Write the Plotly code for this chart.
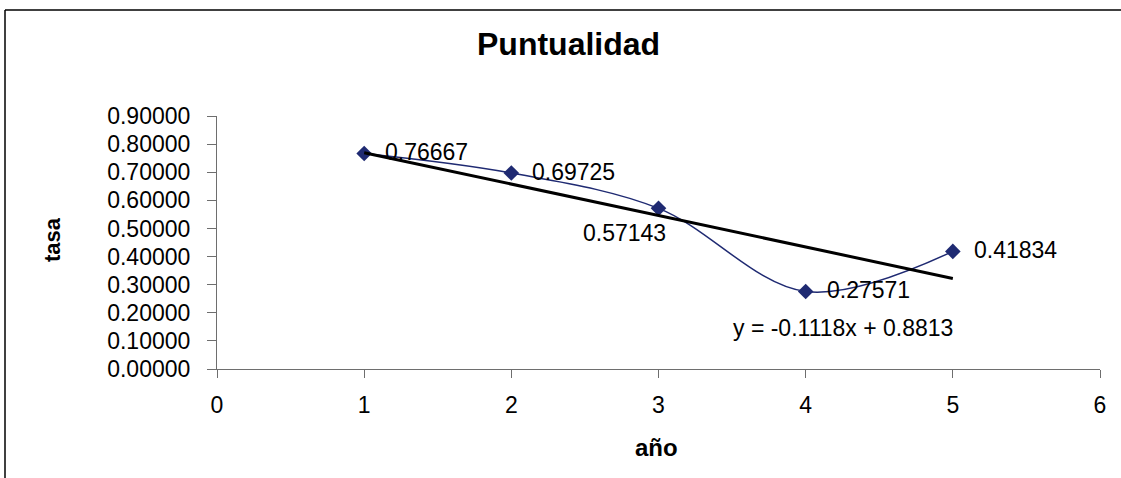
import numpy as np
import plotly.graph_objects as go

# Punctuality rate per year
anios = [1, 2, 3, 4, 5]
tasa = [0.76667, 0.69725, 0.57143, 0.27571, 0.41834]
etiquetas = ["0.76667", "0.69725", "0.57143", "0.27571", "0.41834"]

x_ticks = [0, 1, 2, 3, 4, 5, 6]
y_ticks = [0.0, 0.1, 0.2, 0.3, 0.4, 0.5, 0.6, 0.7, 0.8, 0.9]

# Linear trend fitted to the series
pendiente, intercepto = np.polyfit(anios, tasa, 1)
tendencia_x = [anios[0], anios[-1]]
tendencia_y = [pendiente * v + intercepto for v in tendencia_x]
ecuacion = f"y = {pendiente:.4f}x + {intercepto:.4f}"

W, H = 1121, 478
L, R, T, B = 217, 21, 116, 109
PW, PH = W - L - R, H - T - B


def px(x):
    return (x - L) / PW


def py(y):
    return (H - B - y) / PH


FONT = "Liberation Sans, Arial, sans-serif"
NAVY = "#1f2a72"
AXIS = "#6e6e6e"
TXT = 23

fig = go.Figure()

fig.add_trace(go.Scatter(
    x=anios, y=tasa, mode="lines+markers",
    line=dict(color=NAVY, width=1.5, shape="spline", smoothing=1.0),
    marker=dict(symbol="diamond", size=12, color=NAVY),
    showlegend=False, hoverinfo="skip",
))

fig.add_trace(go.Scatter(
    x=tendencia_x, y=tendencia_y, mode="lines",
    line=dict(color="black", width=3),
    showlegend=False, hoverinfo="skip",
))

# Value labels beside each point
for i, (xv, yv, t) in enumerate(zip(anios, tasa, etiquetas)):
    if i == 2:
        fig.add_annotation(x=xv, y=yv, text=t, showarrow=False,
                           xanchor="right", yanchor="middle",
                           xshift=9, yshift=-25,
                           font=dict(family=FONT, size=TXT, color="black"))
    else:
        fig.add_annotation(x=xv, y=yv, text=t, showarrow=False,
                           xanchor="left", yanchor="middle",
                           xshift=19, yshift=1,
                           font=dict(family=FONT, size=TXT, color="black"))

# Trend line equation
fig.add_annotation(xref="paper", yref="paper", x=px(731), y=py(328),
                   text=ecuacion, showarrow=False,
                   xanchor="left", yanchor="middle",
                   font=dict(family=FONT, size=TXT, color="black"))

# Chart title and axis titles
fig.add_annotation(xref="paper", yref="paper", x=px(568), y=py(44),
                   text="<b>Puntualidad</b>", showarrow=False,
                   xanchor="center", yanchor="middle",
                   font=dict(family=FONT, size=32, color="black"))
fig.add_annotation(xref="paper", yref="paper", x=px(656), y=py(447),
                   text="<b>año</b>", showarrow=False,
                   xanchor="center", yanchor="middle",
                   font=dict(family=FONT, size=24, color="black"))
fig.add_annotation(xref="paper", yref="paper", x=px(52), y=py(240),
                   text="<b>tasa</b>", showarrow=False, textangle=-90,
                   xanchor="center", yanchor="middle",
                   font=dict(family=FONT, size=22, color="black"))

# Chart frame (top and left edges)
frame = dict(color="black", width=1.5)
fig.add_shape(type="line", xref="paper", yref="paper",
              x0=px(5), y0=py(10), x1=px(1121), y1=py(10),
              line=frame, layer="below")
fig.add_shape(type="line", xref="paper", yref="paper",
              x0=px(5), y0=py(10), x1=px(5), y1=py(478),
              line=frame, layer="below")

fig.update_layout(
    width=W, height=H,
    margin=dict(l=L, r=R, t=T, b=B, pad=0),
    paper_bgcolor="white", plot_bgcolor="white",
    font=dict(family=FONT, color="black"),
    xaxis=dict(
        range=[0, 6], tickvals=x_ticks, ticktext=[str(v) for v in x_ticks],
        showgrid=False, zeroline=False, showline=True,
        linecolor=AXIS, linewidth=1.2,
        ticks="outside", ticklen=8, tickcolor=AXIS, tickwidth=1.2,
        ticklabelstandoff=7,
        tickfont=dict(family=FONT, size=TXT, color="black"),
    ),
    yaxis=dict(
        range=[0, 0.9], tickvals=y_ticks, tickformat=".5f",
        showgrid=False, zeroline=False, showline=True,
        linecolor=AXIS, linewidth=1.2,
        ticks="outside", ticklen=9, tickcolor=AXIS, tickwidth=1.2,
        ticklabelstandoff=12,
        tickfont=dict(family=FONT, size=TXT, color="black"),
    ),
)

fig.write_html(
    "out.html",
    config={"displayModeBar": False},
    post_script="document.body.style.margin='0';document.body.style.overflow='hidden';",
)
